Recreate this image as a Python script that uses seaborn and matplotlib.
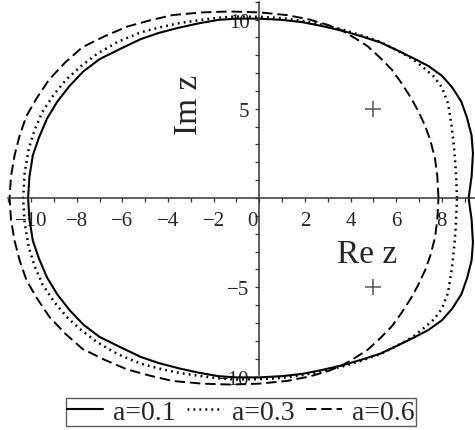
import matplotlib
matplotlib.use("Agg")
import matplotlib.pyplot as plt
from matplotlib.lines import Line2D
from matplotlib.ticker import MultipleLocator, FixedLocator
from matplotlib.transforms import ScaledTranslation
import seaborn as sns
import pandas as pd

# Upper half (Im z >= 0) of each boundary curve, traced from the right crossing
# of the real axis to the left one; the curves are symmetric about Re z.
a01_re = [9.17, 9.30, 9.36, 9.30, 9.10, 8.85, 8.45, 8.00, 7.40, 6.80, 6.00, 5.30,
          4.50, 3.70, 2.80, 1.90, 1.00, 0.00, -1.00, -1.80, -2.60, -3.50, -4.40,
          -5.20, -6.10, -7.00, -7.70, -8.30, -8.85, -9.30, -9.65, -9.92, -10.07, -10.13]
a01_im = [0.00, 1.20, 2.50, 3.50, 4.50, 5.40, 6.20, 6.85, 7.40, 7.80, 8.30, 8.72,
          9.05, 9.35, 9.62, 9.85, 9.98, 10.05, 10.05, 9.98, 9.80, 9.55, 9.25,
          8.90, 8.35, 7.78, 7.10, 6.30, 5.40, 4.45, 3.40, 2.40, 1.20, 0.00]

a03_re = [8.66, 8.62, 8.55, 8.44, 8.27, 8.00, 7.65, 7.20, 6.70, 6.00, 5.30, 4.50,
          3.70, 2.80, 1.90, 1.00, 0.00, -1.00, -1.80, -2.60, -3.50, -4.40, -5.20,
          -6.20, -7.10, -7.80, -8.45, -9.00, -9.50, -9.85, -10.10, -10.28, -10.35]
a03_im = [0.00, 1.30, 2.60, 3.90, 5.30, 6.20, 6.80, 7.30, 7.80, 8.30, 8.75, 9.10,
          9.42, 9.70, 9.92, 10.08, 10.15, 10.17, 10.10, 9.97, 9.80, 9.55, 9.28,
          8.75, 8.08, 7.40, 6.65, 5.80, 4.83, 3.80, 2.75, 1.40, 0.00]

a06_re = [7.85, 7.80, 7.70, 7.50, 7.26, 6.95, 6.65, 6.25, 5.80, 5.30, 4.75, 4.20,
          3.60, 3.00, 2.20, 1.20, 0.00, -1.30, -2.50, -3.80, -4.80, -5.80, -6.80,
          -7.75, -8.50, -9.20, -9.75, -10.20, -10.50, -10.72, -10.88, -10.94]
a06_im = [0.00, 1.20, 2.20, 3.20, 4.06, 4.90, 5.60, 6.40, 7.20, 7.85, 8.50, 8.95,
          9.40, 9.70, 10.00, 10.25, 10.40, 10.45, 10.40, 10.25, 9.95, 9.60, 9.05,
          8.45, 7.60, 6.65, 5.60, 4.60, 3.50, 2.40, 1.20, 0.00]

curve_labels = ["a=0.1", "a=0.3", "a=0.6"]

# Marked points
pts_re = [5, 5]
pts_im = [5, -5]

x_ticks = [-10, -8, -6, -4, -2, 0, 2, 4, 6, 8]
y_ticks = [-10, -5, 5, 10]


def closed_loop(re_up, im_up):
    """Upper half plus its mirror image, returning to the starting point."""
    re = list(re_up) + list(re_up[-2::-1])
    im = list(im_up) + [-v for v in im_up[-2::-1]]
    return re, im


sns.set_style("white")
plt.rcParams["font.family"] = ["Liberation Serif", "DejaVu Serif"]
plt.rcParams["lines.scale_dashes"] = False

fig = plt.figure(figsize=(4.75, 4.31), dpi=100)
ax = fig.add_axes([0.0, 36 / 431, 1.0, 395 / 431])

styles = [
    dict(linestyle="-", linewidth=1.5),
    dict(linestyle=(0, (1.3, 3.0)), linewidth=1.8),
    dict(linestyle=(0, (7.5, 3.5)), linewidth=1.4),
]

frames = []
for lab, (re_up, im_up) in zip(curve_labels,
                               [(a01_re, a01_im), (a03_re, a03_im), (a06_re, a06_im)]):
    re, im = closed_loop(re_up, im_up)
    frames.append(pd.DataFrame({"re": re, "im": im, "a": lab}))
df = pd.concat(frames, ignore_index=True)

for lab, st in zip(curve_labels, styles):
    sub = df[df["a"] == lab]
    sns.lineplot(data=sub, x="re", y="im", sort=False, estimator=None,
                 color="black", ax=ax, legend=False, **st)

sns.scatterplot(x=pts_re, y=pts_im, marker="+", s=140, color="#555555",
                linewidth=1.1, ax=ax, legend=False, zorder=5)

ax.set_xlim(-11.36, 9.45)
ax.set_ylim(-10.98, 11.15)

# Axes crossing at the origin
for side in ["top", "right"]:
    ax.spines[side].set_visible(False)
ax.spines["left"].set_position(("data", 0))
ax.spines["bottom"].set_position(("data", 0))
ax.spines["left"].set_bounds(-9.9, 11.0)
ax.spines["bottom"].set_bounds(-11.0, 9.45)
for side in ["left", "bottom"]:
    ax.spines[side].set_color("#333333")
    ax.spines[side].set_linewidth(1.1)

ax.xaxis.set_major_locator(FixedLocator(x_ticks))
ax.yaxis.set_major_locator(FixedLocator(y_ticks))
ax.xaxis.set_minor_locator(MultipleLocator(1))
ax.yaxis.set_minor_locator(MultipleLocator(1))
ax.set_xticklabels([f"{v}".replace("-", "\u2212") for v in x_ticks])
ax.set_yticklabels([f"{v}".replace("-", "\u2212") for v in y_ticks])
ax.tick_params(which="both", direction="out", length=3, width=0.9, color="#333333",
               labelsize=15, bottom=True, left=True)
ax.tick_params(axis="x", pad=6)
ax.tick_params(axis="y", pad=4)
ax.set_xlabel("")
ax.set_ylabel("")

# nudge the "0" label off the vertical axis
for lbl in ax.get_xticklabels():
    if lbl.get_text() == "0":
        lbl.set_transform(lbl.get_transform() + ScaledTranslation(-7 / 100, 0, fig.dpi_scale_trans))

ax.text(-3.08, 5.26, "Im z", rotation=90, fontsize=24, ha="center", va="center")
ax.text(4.71, -3.14, "Re z", fontsize=24, ha="center", va="center")

handles = [Line2D([], [], color="black", **st) for st in styles]
leg = fig.legend(handles, curve_labels, loc="center", bbox_to_anchor=(0.507, 0.041),
                 ncol=3, fontsize=20, frameon=True, fancybox=False,
                 handlelength=1.3, handletextpad=0.35, columnspacing=0.4,
                 borderpad=0.05, borderaxespad=0.0)
leg.get_frame().set_edgecolor("#333333")
leg.get_frame().set_linewidth(1.0)

fig.savefig("out.png", dpi=100)
